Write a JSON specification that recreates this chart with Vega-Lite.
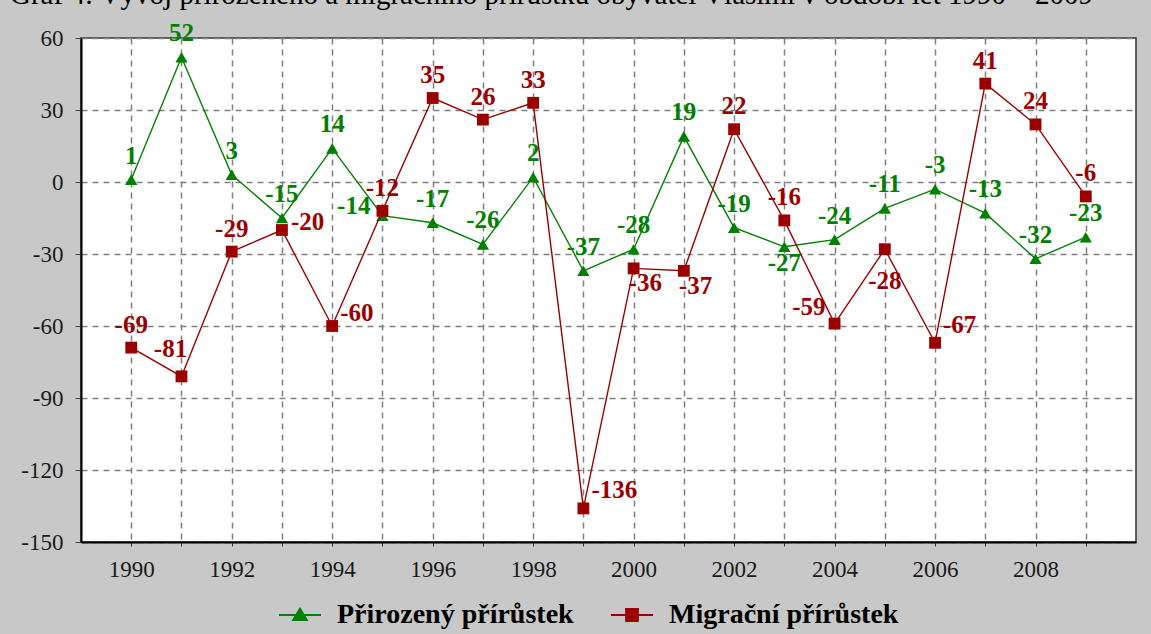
{
  "$schema": "https://vega.github.io/schema/vega-lite/v6.json",
  "width": 1055,
  "height": 504,
  "autosize": {"type": "none"},
  "padding": {"left": 81, "top": 38, "right": 15, "bottom": 92},
  "background": "#c8c8c8",
  "title": {
    "text": "Graf 4: Vývoj přirozeného a migračního přírůstku obyvatel Vlašimi v období let 1990 – 2009",
    "anchor": "start",
    "frame": "group",
    "dx": -71,
    "offset": -12,
    "baseline": "alphabetic",
    "fontSize": 29,
    "fontWeight": "normal",
    "font": "Liberation Serif",
    "color": "#000000"
  },
  "data": {
    "values": [
      {"year": 1990, "series": "Přirozený přírůstek", "value": 1},
      {"year": 1991, "series": "Přirozený přírůstek", "value": 52},
      {"year": 1992, "series": "Přirozený přírůstek", "value": 3},
      {"year": 1993, "series": "Přirozený přírůstek", "value": -15},
      {"year": 1994, "series": "Přirozený přírůstek", "value": 14},
      {"year": 1995, "series": "Přirozený přírůstek", "value": -14},
      {"year": 1996, "series": "Přirozený přírůstek", "value": -17},
      {"year": 1997, "series": "Přirozený přírůstek", "value": -26},
      {"year": 1998, "series": "Přirozený přírůstek", "value": 2},
      {"year": 1999, "series": "Přirozený přírůstek", "value": -37},
      {"year": 2000, "series": "Přirozený přírůstek", "value": -28},
      {"year": 2001, "series": "Přirozený přírůstek", "value": 19},
      {"year": 2002, "series": "Přirozený přírůstek", "value": -19},
      {"year": 2003, "series": "Přirozený přírůstek", "value": -27},
      {"year": 2004, "series": "Přirozený přírůstek", "value": -24},
      {"year": 2005, "series": "Přirozený přírůstek", "value": -11},
      {"year": 2006, "series": "Přirozený přírůstek", "value": -3},
      {"year": 2007, "series": "Přirozený přírůstek", "value": -13},
      {"year": 2008, "series": "Přirozený přírůstek", "value": -32},
      {"year": 2009, "series": "Přirozený přírůstek", "value": -23},
      {"year": 1990, "series": "Migrační přírůstek", "value": -69},
      {"year": 1991, "series": "Migrační přírůstek", "value": -81},
      {"year": 1992, "series": "Migrační přírůstek", "value": -29},
      {"year": 1993, "series": "Migrační přírůstek", "value": -20},
      {"year": 1994, "series": "Migrační přírůstek", "value": -60},
      {"year": 1995, "series": "Migrační přírůstek", "value": -12},
      {"year": 1996, "series": "Migrační přírůstek", "value": 35},
      {"year": 1997, "series": "Migrační přírůstek", "value": 26},
      {"year": 1998, "series": "Migrační přírůstek", "value": 33},
      {"year": 1999, "series": "Migrační přírůstek", "value": -136},
      {"year": 2000, "series": "Migrační přírůstek", "value": -36},
      {"year": 2001, "series": "Migrační přírůstek", "value": -37},
      {"year": 2002, "series": "Migrační přírůstek", "value": 22},
      {"year": 2003, "series": "Migrační přírůstek", "value": -16},
      {"year": 2004, "series": "Migrační přírůstek", "value": -59},
      {"year": 2005, "series": "Migrační přírůstek", "value": -28},
      {"year": 2006, "series": "Migrační přírůstek", "value": -67},
      {"year": 2007, "series": "Migrační přírůstek", "value": 41},
      {"year": 2008, "series": "Migrační přírůstek", "value": 24},
      {"year": 2009, "series": "Migrační přírůstek", "value": -6}
    ]
  },
  "encoding": {
    "x": {
      "field": "year",
      "type": "quantitative",
      "scale": {"domain": [1989, 2010], "nice": false, "zero": false},
      "axis": {
        "title": null,
        "values": [1990, 1991, 1992, 1993, 1994, 1995, 1996, 1997, 1998, 1999, 2000, 2001, 2002, 2003, 2004, 2005, 2006, 2007, 2008, 2009],
        "labelExpr": "datum.value % 2 == 0 ? datum.value + '' : ''",
        "ticks": true,
        "tickSize": 4,
        "tickColor": "#333333",
        "labelPadding": 12,
        "labelFontSize": 23,
        "labelColor": "#1a1a1a",
        "labelFont": "Liberation Serif",
        "domainColor": "#000000",
        "domainWidth": 2,
        "gridColor": "#808080",
        "gridDash": [6, 5],
        "gridWidth": 1.5,
        "labelFlush": false,
        "labelOverlap": false
      }
    },
    "y": {
      "field": "value",
      "type": "quantitative",
      "scale": {"domain": [-150, 60], "nice": false, "zero": false},
      "axis": {
        "title": null,
        "values": [-150, -120, -90, -60, -30, 0, 30, 60],
        "labelExpr": "datum.value + ''",
        "tickSize": 6,
        "tickColor": "#444444",
        "labelPadding": 12,
        "labelFontSize": 23,
        "labelColor": "#1a1a1a",
        "labelFont": "Liberation Serif",
        "domainColor": "#000000",
        "domainWidth": 2,
        "gridColor": "#808080",
        "gridDash": [6, 5],
        "gridWidth": 1.5,
        "labelFlush": false,
        "labelOverlap": false
      }
    }
  },
  "layer": [
    {
      "transform": [{"filter": "datum.series == 'Přirozený přírůstek'"}],
      "encoding": {
        "color": {
          "field": "series",
          "type": "nominal",
          "scale": {"domain": ["Přirozený přírůstek"], "range": ["#008000"]},
          "legend": {
            "title": null,
            "orient": "none",
            "legendX": 197,
            "legendY": 555,
            "direction": "horizontal",
            "labelFontSize": 28,
            "labelFontWeight": "bold",
            "labelFont": "Liberation Serif",
            "labelColor": "#000000",
            "symbolType": "M-1,0H1M-0.32,0.24L0,-0.3L0.32,0.24Z",
            "symbolSize": 1764,
            "symbolStrokeWidth": 2,
            "symbolStrokeColor": "#008000",
            "symbolFillColor": "#008000",
            "labelLimit": 400,
            "labelOffset": 15
          }
        }
      },
      "layer": [
        {"mark": {"type": "line", "strokeWidth": 1.4}},
        {"mark": {"type": "point", "filled": true, "size": 150, "opacity": 1, "shape": "triangle-up"}},
        {
          "transform": [{"filter": "datum.year != 1995 && datum.year != 2003"}],
          "mark": {"type": "text", "fontSize": 25, "fontWeight": "bold", "font": "Liberation Serif", "baseline": "bottom", "dy": -11},
          "encoding": {"text": {"field": "value"}}
        },
        {
          "transform": [{"filter": "datum.year == 1995"}],
          "mark": {"type": "text", "fontSize": 25, "fontWeight": "bold", "font": "Liberation Serif", "baseline": "middle", "align": "right", "dx": -12, "dy": -10},
          "encoding": {"text": {"field": "value"}}
        },
        {
          "transform": [{"filter": "datum.year == 2003"}],
          "mark": {"type": "text", "fontSize": 25, "fontWeight": "bold", "font": "Liberation Serif", "baseline": "top", "dy": 4},
          "encoding": {"text": {"field": "value"}}
        }
      ]
    },
    {
      "transform": [{"filter": "datum.series == 'Migrační přírůstek'"}],
      "encoding": {
        "color": {
          "field": "series",
          "type": "nominal",
          "scale": {"domain": ["Migrační přírůstek"], "range": ["#9b0000"]},
          "legend": {
            "title": null,
            "orient": "none",
            "legendX": 529,
            "legendY": 555,
            "direction": "horizontal",
            "labelFontSize": 28,
            "labelFontWeight": "bold",
            "labelFont": "Liberation Serif",
            "labelColor": "#000000",
            "symbolType": "M-1,0H1M-0.28,-0.28H0.28V0.28H-0.28Z",
            "symbolSize": 1764,
            "symbolStrokeWidth": 2,
            "symbolStrokeColor": "#b00000",
            "symbolFillColor": "#9b0000",
            "labelLimit": 400,
            "labelOffset": 15
          }
        }
      },
      "layer": [
        {"mark": {"type": "line", "strokeWidth": 1.4}},
        {"mark": {"type": "point", "filled": true, "size": 140, "opacity": 1, "shape": "square"}},
        {
          "transform": [{"filter": "indexof([1990,1992,1995,1996,1997,1998,2002,2003,2007,2008,2009], datum.year) >= 0"}],
          "mark": {"type": "text", "fontSize": 25, "fontWeight": "bold", "font": "Liberation Serif", "baseline": "bottom", "dy": -10},
          "encoding": {"text": {"field": "value"}}
        },
        {
          "transform": [{"filter": "datum.year == 1991"}],
          "mark": {"type": "text", "fontSize": 25, "fontWeight": "bold", "font": "Liberation Serif", "baseline": "bottom", "dx": -11, "dy": -14},
          "encoding": {"text": {"field": "value"}}
        },
        {
          "transform": [{"filter": "datum.year == 1993"}],
          "mark": {"type": "text", "fontSize": 25, "fontWeight": "bold", "font": "Liberation Serif", "baseline": "middle", "align": "left", "dx": 9, "dy": -8},
          "encoding": {"text": {"field": "value"}}
        },
        {
          "transform": [{"filter": "datum.year == 1994"}],
          "mark": {"type": "text", "fontSize": 25, "fontWeight": "bold", "font": "Liberation Serif", "baseline": "middle", "align": "left", "dx": 8, "dy": -13},
          "encoding": {"text": {"field": "value"}}
        },
        {
          "transform": [{"filter": "indexof([1999,2006], datum.year) >= 0"}],
          "mark": {"type": "text", "fontSize": 25, "fontWeight": "bold", "font": "Liberation Serif", "baseline": "middle", "align": "left", "dx": 8, "dy": -18},
          "encoding": {"text": {"field": "value"}}
        },
        {
          "transform": [{"filter": "indexof([2000,2001], datum.year) >= 0"}],
          "mark": {"type": "text", "fontSize": 25, "fontWeight": "bold", "font": "Liberation Serif", "baseline": "middle", "align": "left", "dx": -5, "dy": 15},
          "encoding": {"text": {"field": "value"}}
        },
        {
          "transform": [{"filter": "datum.year == 2004"}],
          "mark": {"type": "text", "fontSize": 25, "fontWeight": "bold", "font": "Liberation Serif", "baseline": "middle", "align": "right", "dx": -9, "dy": -17},
          "encoding": {"text": {"field": "value"}}
        },
        {
          "transform": [{"filter": "datum.year == 2005"}],
          "mark": {"type": "text", "fontSize": 25, "fontWeight": "bold", "font": "Liberation Serif", "baseline": "top", "dy": 20},
          "encoding": {"text": {"field": "value"}}
        }
      ]
    }
  ],
  "resolve": {"scale": {"color": "independent"}, "legend": {"color": "independent"}},
  "config": {
    "font": "Liberation Serif",
    "view": {"fill": "#ffffff", "stroke": "#333333", "strokeWidth": 1.5}
  }
}
